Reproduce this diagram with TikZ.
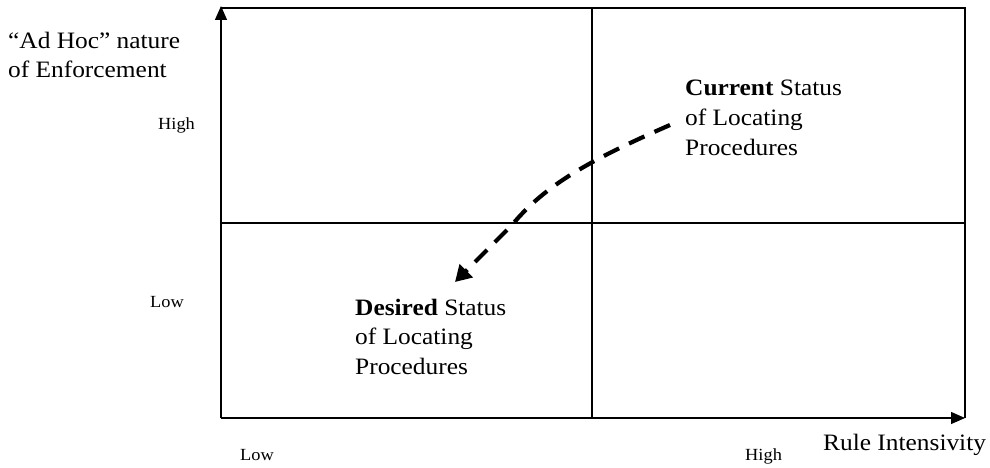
\documentclass[tikz,border=0pt]{standalone}
\usepackage{fontspec}
\setmainfont{Liberation Serif}[FakeStretch=1.08]
\usetikzlibrary{arrows.meta}
\begin{document}
\begin{tikzpicture}[x=1pt,y=-1pt,
  frame/.style={line width=1.3pt,black},
  axis/.style={line width=1.3pt,black,-{Triangle[length=14pt,width=12pt]}},
  big/.style={font=\fontsize{23.5}{29.5}\selectfont,inner sep=0pt,align=left},
  small/.style={font=\fontsize{17}{20}\selectfont,inner sep=0pt},
  path/.style={line width=4.2pt,dash pattern=on 17pt off 11pt,-{Triangle[length=16pt,width=18pt]}}]
\useasboundingbox (0,0) rectangle (990,468);
% axes and grid
\coordinate (O) at (221,418);
\coordinate (Ytop) at (221,6);
\coordinate (Xend) at (965,418);
\coordinate (TL) at (221,8);
\coordinate (TR) at (965,8);
\coordinate (MT) at (592,8);
\coordinate (MB) at (592,418);
\coordinate (ML) at (221,223);
\coordinate (MR) at (965,223);
\draw[frame] (TL) -- (TR) -- (Xend);
\draw[frame] (MT) -- (MB);
\draw[frame] (ML) -- (MR);
\draw[axis] (O) -- (Ytop);
\draw[axis] (O) -- (Xend);
% labels (base anchor = baseline of last line)
\node[big,anchor=base west] (ylab) at (8,78) {“Ad Hoc” nature\\of Enforcement};
\node[big,anchor=base west] (xlab) at (823,450) {Rule Intensivity};
\node[small,anchor=base west] (yhigh) at (158,130) {High};
\node[small,anchor=base west] (ylow) at (150,307) {Low};
\node[small,anchor=base west] (xlow) at (240,460) {Low};
\node[small,anchor=base west] (xhigh) at (745,460) {High};
\node[big,anchor=base west] (cur) at (685,155) {\textbf{Current} Status\\of Locating\\Procedures};
\node[big,anchor=base west] (des) at (355,374) {\textbf{Desired} Status\\of Locating\\Procedures};
% movement
\coordinate (s) at (670,125);
\coordinate (k) at (512,225);
\coordinate (e) at (455,282);
\draw[path] (s) .. controls (590,160) and (545,185) .. (k) -- (e);
\end{tikzpicture}
\end{document}
